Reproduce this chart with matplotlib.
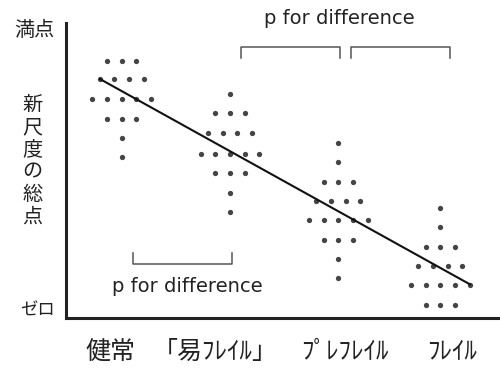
# plot.py
# Scatter of new-scale total scores across frailty groups with a trend line.

import matplotlib
matplotlib.use('Agg')
import matplotlib.pyplot as plt

plt.rcParams['font.family'] = ['Noto Sans CJK JP', 'DejaVu Sans']

# group centre positions on the x axis
group_centers = [1.0, 2.0, 3.0, 3.942]

# score level of each dot row (0 = ゼロ, 100 = 満点), top to bottom
group1_scores = [87.2, 81.0, 74.1, 67.5, 61.1, 54.5]
group2_scores = [75.8, 69.4, 62.8, 55.7, 49.3, 42.4, 36.0]
group3_scores = [59.2, 52.8, 46.0, 39.7, 33.2, 26.4, 20.0, 13.5]
group4_scores = [37.2, 30.7, 24.0, 17.6, 11.2, 4.4]

# number of people on each row
group1_counts = [3, 4, 5, 3, 1, 1]
group2_counts = [1, 3, 4, 5, 3, 1, 1]
group3_counts = [1, 1, 3, 4, 5, 3, 1, 1]
group4_counts = [1, 1, 3, 4, 5, 3]

# trend line end points
trend_x = [0.80, 4.216]
trend_y = [81.0, 11.4]

# p for difference brackets: (x start, x end, y of bar, y of tick end)
top_brackets = [(2.102, 3.015, 91.8, 88.0), (3.117, 4.031, 91.8, 88.0)]
bottom_bracket = (1.102, 2.016, 18.3, 22.0)

category_labels = ['健常', '「易ﾌﾚｲﾙ」', 'ﾌﾟﾚﾌﾚｲﾙ', 'ﾌﾚｲﾙ']
category_positions = [0.892, 1.861, 3.062, 4.050]

dot_step = 0.1357
dot_color = '#444444'
line_color = '#555555'

fig = plt.figure(figsize=(5, 3.7), dpi=100)
axis = fig.add_axes([0.132, 0.1405, 0.868, 0.7973])

all_scores = [group1_scores, group2_scores, group3_scores, group4_scores]
all_counts = [group1_counts, group2_counts, group3_counts, group4_counts]

for center, scores, counts in zip(group_centers, all_scores, all_counts):
    xs, ys = [], []
    for score, count in zip(scores, counts):
        for k in range(count):
            xs.append(center + (k - (count - 1) / 2) * dot_step)
            ys.append(score)
    axis.plot(xs, ys, 'o', color=dot_color, markersize=3.8, markeredgewidth=0)

axis.plot(trend_x, trend_y, color='#111111', linewidth=1.5)

for x0, x1, y_bar, y_tick in top_brackets:
    axis.plot([x0, x0, x1, x1], [y_tick, y_bar, y_bar, y_tick],
              color=line_color, linewidth=1.1, clip_on=False)
x0, x1, y_bar, y_tick = bottom_bracket
axis.plot([x0, x0, x1, x1], [y_tick, y_bar, y_bar, y_tick],
          color=line_color, linewidth=1.1, clip_on=False)

latin_font = ['DejaVu Sans']
axis.text(3.006, 101.4, 'p for difference', ha='center', va='center',
          fontsize=14, color='#222222', clip_on=False, family=latin_font)
axis.text(1.603, 10.6, 'p for difference', ha='center', va='center',
          fontsize=14, color='#222222', family=latin_font)

axis.set_xlim(0.4857, 4.493)
axis.set_ylim(0, 100)

axis.set_xticks(category_positions)
axis.set_xticklabels(category_labels, fontsize=18, color='#222222')
axis.tick_params(axis='x', length=0, pad=15)
axis.set_yticks([])

for side in ['top', 'right']:
    axis.spines[side].set_visible(False)
for side in ['left', 'bottom']:
    axis.spines[side].set_linewidth(2.2)
    axis.spines[side].set_color('#222222')

fig.text(34.5 / 500, 1 - 31 / 370, '満点', ha='center', va='center',
         fontsize=14.5, color='#222222')
fig.text(38 / 500, 1 - 311 / 370, 'ゼロ', ha='center', va='center',
         fontsize=12.5, color='#222222')
fig.text(32.5 / 500, 1 - 161 / 370, '\n'.join('新尺度の総点'), ha='center',
         va='center', fontsize=14.5, color='#222222', linespacing=1.08)

fig.savefig('out.png', dpi=100)
plt.close(fig)
